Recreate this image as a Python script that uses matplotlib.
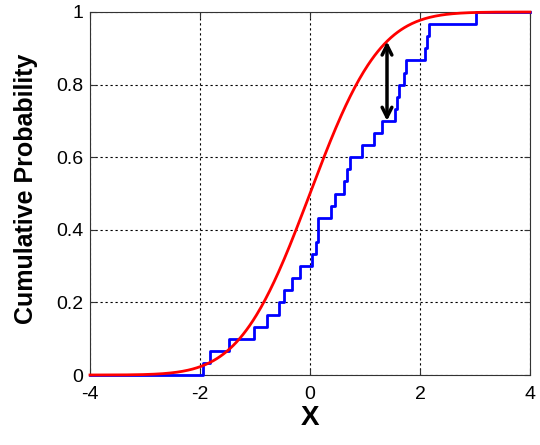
import math
import numpy as np
import matplotlib
matplotlib.use("Agg")
import matplotlib.pyplot as plt

sample_x = [-1.95, -1.82, -1.47, -1.02, -0.79, -0.56, -0.48, -0.33, -0.19,
            0.04, 0.10, 0.14, 0.15, 0.39, 0.45, 0.61, 0.67, 0.73, 0.94,
            1.17, 1.30, 1.55, 1.58, 1.61, 1.70, 1.75, 2.09, 2.13, 2.17, 3.02]

# Theoretical reference distribution (standard normal)
mu = 0.0
sigma = 1.0

# KS statistic arrow
arrow_x = 1.40
arrow_lo = 0.70
arrow_hi = 0.919

xticks = [-4, -2, 0, 2, 4]
yticks = [0, 0.2, 0.4, 0.6, 0.8, 1]
yticklabels = ["0", "0.2", "0.4", "0.6", "0.8", "1"]

plt.rcParams['font.family'] = ['Liberation Sans', 'DejaVu Sans']

fig = plt.figure(figsize=(5.4, 4.45), dpi=100)
ax = fig.add_axes([90/540, 1-375/445, 440/540, 363/445])

# empirical CDF
n = len(sample_x)
xs = [-4.0] + list(sample_x) + [4.0]
ys = [0.0] + [(i + 1) / n for i in range(n)] + [1.0]
ax.step(xs, ys, where='post', color='#0000ff', lw=2.0, zorder=3, clip_on=False)

# theoretical CDF
grid = np.linspace(-4, 4, 400)
cdf = [0.5 * (1 + math.erf((g - mu) / (sigma * math.sqrt(2)))) for g in grid]
ax.plot(grid, cdf, color='#ff0000', lw=2.0, zorder=4, clip_on=False)

# arrow
ax.annotate('', xy=(arrow_x, arrow_hi), xytext=(arrow_x, arrow_lo),
            arrowprops=dict(arrowstyle='<->,head_length=0.7,head_width=0.35',
                            color='black', lw=2.5, shrinkA=0, shrinkB=0),
            zorder=5)

ax.set_xlim(-4, 4)
ax.set_ylim(0, 1)
ax.set_xticks(xticks)
ax.set_xticklabels([str(t) for t in xticks])
ax.set_yticks(yticks)
ax.set_yticklabels(yticklabels)
ax.tick_params(direction='in', labelsize=14, length=4, color='#333333',
               top=True, right=True)
ax.tick_params(axis='y', pad=5)
ax.tick_params(axis='x', pad=8)
ax.grid(True, color='black', linestyle=(0, (2, 2.5)), lw=0.8)
for s in ax.spines.values():
    s.set_color('#333333')
    s.set_linewidth(0.8)

ax.set_xlabel('X', fontsize=20, fontweight='bold')
ax.set_ylabel('Cumulative Probability', fontsize=18, fontweight='bold')
ax.xaxis.set_label_coords(0.5, (375 - 405) / 363)
ax.yaxis.set_label_coords((38 - 90) / 440, (375 - 188.5) / 363)

fig.savefig('out.png', dpi=100)
